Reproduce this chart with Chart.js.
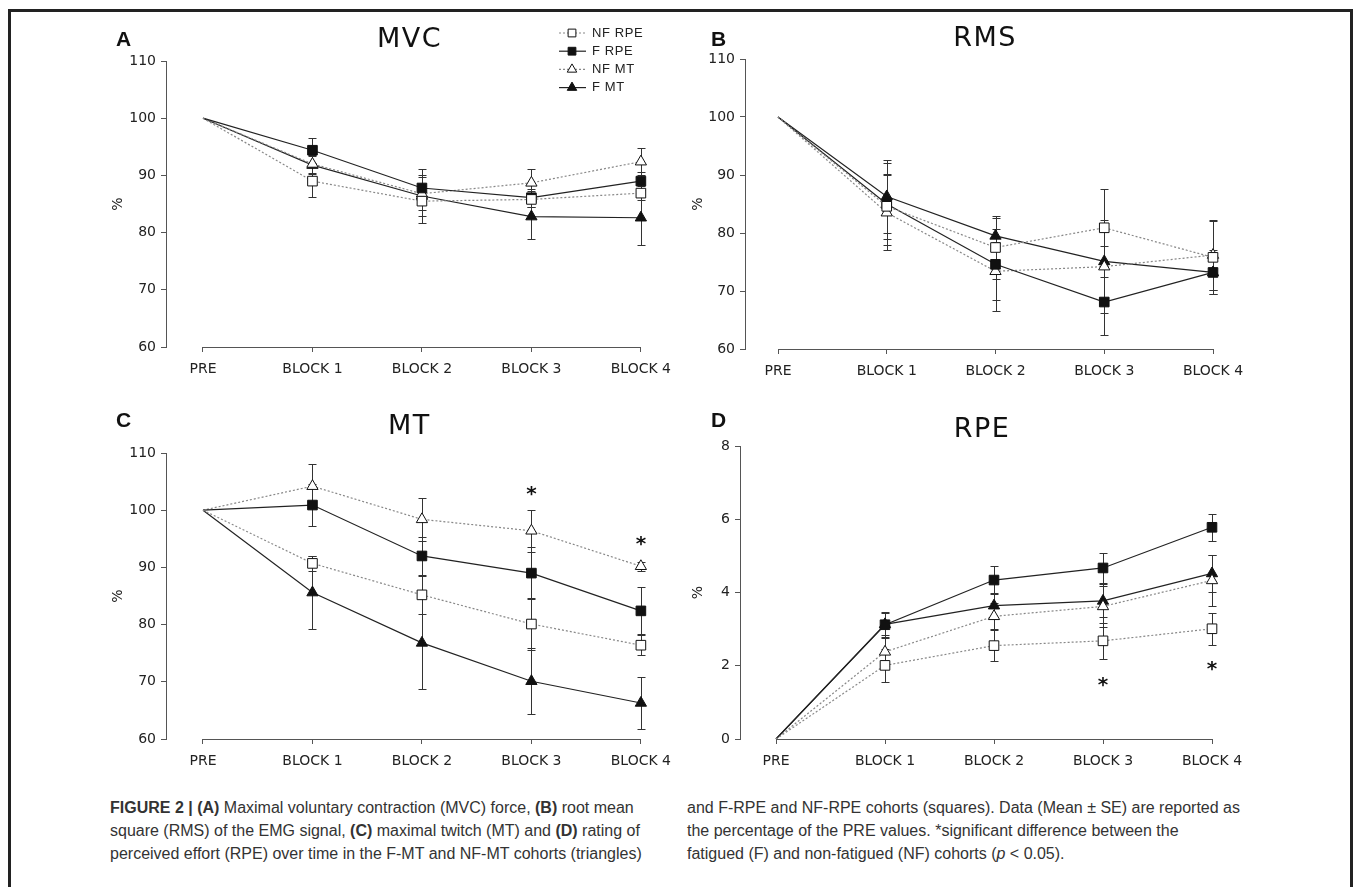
<!DOCTYPE html>
<html>
<head>
<meta charset="utf-8">
<script src="https://cdn.jsdelivr.net/npm/chart.js@4.4.1/dist/chart.umd.min.js"></script>
<style>
  body { margin: 0; background: #fff; width: 1355px; height: 887px; overflow: hidden; position: relative; font-family: "Liberation Sans", Arial, sans-serif; }
  .frame { position: absolute; left: 8px; top: 9px; width: 1339px; height: 900px; border: 3px solid #222; }
  canvas { position: absolute; }
  .tag { position: absolute; font: bold 21px "Liberation Sans", Arial, sans-serif; color: #111; line-height: 1; }
  .cap { position: absolute; top: 796px; font-size: 16px; line-height: 23px; color: #333; white-space: nowrap; }
</style>
</head>
<body>
<div class="frame"></div>
<canvas id="mvc"></canvas>
<canvas id="rms"></canvas>
<canvas id="mt"></canvas>
<canvas id="rpe"></canvas>
<div class="tag" style="left:116px; top:28px">A</div>
<div class="tag" style="left:711px; top:28px">B</div>
<div class="tag" style="left:116px; top:409px">C</div>
<div class="tag" style="left:711px; top:409px">D</div>
<div class="cap" style="left:110px"><b>FIGURE 2 | (A)</b> Maximal voluntary contraction (MVC) force, <b>(B)</b> root mean<br>square (RMS) of the EMG signal, <b>(C)</b> maximal twitch (MT) and <b>(D)</b> rating of<br>perceived effort (RPE) over time in the F-MT and NF-MT cohorts (triangles)</div>
<div class="cap" style="left:687px">and F-RPE and NF-RPE cohorts (squares). Data (Mean ± SE) are reported as<br>the percentage of the PRE values. *significant difference between the<br>fatigued (F) and non-fatigued (NF) cohorts (<i>p</i> &lt; 0.05).</div>
<script>
const categories = ["PRE", "BLOCK 1", "BLOCK 2", "BLOCK 3", "BLOCK 4"];
const seriesNames = ["NF RPE", "F RPE", "NF MT", "F MT"];
const pctTicks = [60, 70, 80, 90, 100, 110];
const rpeTicks = [0, 2, 4, 6, 8];

// MVC (%)
const mvcNfRpe = [100, 89.0, 85.5, 85.8, 86.9];
const mvcFRpe = [100, 94.4, 87.8, 86.1, 89.0];
const mvcNfMt = [100, 92.0, 86.8, 88.7, 92.4];
const mvcFMt = [100, 91.8, 86.4, 82.8, 82.6];
const mvcNfRpeSe = [0, 2.8, 2.6, 1.4, 1.2];
const mvcFRpeSe = [0, 2.2, 2.3, 1.6, 1.6];
const mvcNfMtSe = [0, 1.6, 2.9, 2.4, 2.4];
const mvcFMtSe = [0, 1.6, 4.8, 4.0, 4.8];

// RMS (%)
const rmsNfRpe = [100, 84.6, 77.5, 80.9, 75.8];
const rmsFRpe = [100, 85.0, 74.6, 68.1, 73.2];
const rmsNfMt = [100, 83.5, 73.4, 74.2, 76.2];
const rmsFMt = [100, 86.3, 79.5, 75.1, 73.2];
const rmsNfRpeSe = [0, 5.6, 5.5, 6.7, 6.3];
const rmsFRpeSe = [0, 7.0, 8.0, 5.7, 3.0];
const rmsNfMtSe = [0, 6.5, 5.0, 8.0, 6.0];
const rmsFMtSe = [0, 6.3, 1.2, 2.7, 3.8];

// MT (%)
const mtNfRpe = [100, 90.7, 85.2, 80.1, 76.4];
const mtFRpe = [100, 100.9, 92.0, 89.0, 82.4];
const mtNfMt = [100, 104.2, 98.4, 96.4, 90.2];
const mtFMt = [100, 85.6, 76.8, 70.1, 66.3];
const mtNfRpeSe = [0, 1.3, 3.3, 4.5, 1.8];
const mtFRpeSe = [0, 3.6, 3.4, 4.6, 4.1];
const mtNfMtSe = [0, 3.8, 3.8, 3.7, 0.8];
const mtFMtSe = [0, 6.4, 8.1, 5.8, 4.6];
const mtStars = [null, null, null, 103.3, 94.6];

// RPE
const rpeNfRpe = [0, 2.01, 2.55, 2.68, 3.01];
const rpeFRpe = [0, 3.12, 4.34, 4.67, 5.78];
const rpeNfMt = [0, 2.38, 3.35, 3.62, 4.33];
const rpeFMt = [0, 3.13, 3.64, 3.77, 4.52];
const rpeNfRpeSe = [0, 0.46, 0.43, 0.50, 0.44];
const rpeFRpeSe = [0, 0.36, 0.38, 0.40, 0.37];
const rpeNfMtSe = [0, 0.40, 0.35, 0.55, 0.70];
const rpeFMtSe = [0, 0.30, 0.35, 0.45, 0.50];
const rpeStars = [null, null, null, 1.55, 1.98];

Chart.defaults.font.family = "'DejaVu Sans', Verdana, sans-serif";
Chart.defaults.color = "#222";

const looks = [
  { fill: "#fff", line: "#888", dash: [2, 2], shape: "rect" },
  { fill: "#111", line: "#222", dash: [], shape: "rect" },
  { fill: "#fff", line: "#888", dash: [2, 2], shape: "triangle" },
  { fill: "#111", line: "#222", dash: [], shape: "triangle" }
];

function markerPath(ctx, shape, x, y, r) {
  ctx.beginPath();
  if (shape === "rect") {
    const s = r * Math.SQRT1_2;
    ctx.rect(x - s, y - s, 2 * s, 2 * s);
  } else {
    for (let k = 0; k < 3; k++) {
      const a = k * 2 * Math.PI / 3;
      ctx.lineTo(x + Math.sin(a) * r, y - Math.cos(a) * r);
    }
    ctx.closePath();
  }
}

function makeDatasets(values, errors) {
  return values.map((vals, k) => ({
    label: seriesNames[k],
    data: vals.map((v, i) => ({ x: i, y: v })),
    errors: errors[k],
    borderColor: looks[k].line,
    borderDash: looks[k].dash,
    borderWidth: 1.2,
    pointStyle: looks[k].shape,
    pointRadius: c => (c.dataIndex === 0 ? 0 : (looks[k].shape === "rect" ? 6.8 : 6.5)),
    pointBackgroundColor: looks[k].fill,
    pointBorderColor: "#111",
    pointBorderWidth: 1,
    clip: false,
    tension: 0
  }));
}

const errorBars = {
  id: "errorBars",
  beforeDatasetsDraw(chart) {
    const ctx = chart.ctx, xs = chart.scales.x, ys = chart.scales.y;
    ctx.save();
    ctx.strokeStyle = "#333";
    ctx.lineWidth = 1;
    chart.data.datasets.forEach(ds => {
      ds.data.forEach((p, i) => {
        const e = ds.errors[i];
        if (!e) return;
        const x = Math.round(xs.getPixelForValue(p.x)) + 0.5;
        const top = Math.round(ys.getPixelForValue(p.y + e)) + 0.5;
        const bot = Math.round(ys.getPixelForValue(p.y - e)) + 0.5;
        ctx.beginPath();
        ctx.moveTo(x, top); ctx.lineTo(x, bot);
        ctx.moveTo(x - 4, top); ctx.lineTo(x + 4, top);
        ctx.moveTo(x - 4, bot); ctx.lineTo(x + 4, bot);
        ctx.stroke();
      });
    });
    ctx.restore();
  }
};

// x axis only runs from PRE to BLOCK 4, away from the y axis
const xAxisLine = {
  id: "xAxisLine",
  afterDraw(chart) {
    const ctx = chart.ctx, xs = chart.scales.x;
    const y = Math.round(chart.chartArea.bottom) + 0.5;
    ctx.save();
    ctx.strokeStyle = "#555";
    ctx.lineWidth = 1;
    ctx.beginPath();
    ctx.moveTo(xs.getPixelForValue(0), y);
    ctx.lineTo(xs.getPixelForValue(categories.length - 1), y);
    ctx.stroke();
    ctx.restore();
  }
};

function titlePlugin(text, y) {
  return {
    id: "panelTitle",
    afterDraw(chart) {
      const ctx = chart.ctx, a = chart.chartArea;
      ctx.save();
      ctx.font = "27px 'DejaVu Sans'";
      ctx.letterSpacing = "1.5px";
      ctx.fillStyle = "#111";
      ctx.textAlign = "center";
      ctx.textBaseline = "middle";
      ctx.fillText(text, (a.left + a.right) / 2 + 6, y);
      ctx.restore();
    }
  };
}

function starPlugin(stars) {
  return {
    id: "stars",
    afterDatasetsDraw(chart) {
      const ctx = chart.ctx, xs = chart.scales.x, ys = chart.scales.y;
      ctx.save();
      ctx.font = "bold 20px 'DejaVu Sans'";
      ctx.fillStyle = "#111";
      ctx.textAlign = "center";
      const m = ctx.measureText("*");
      const shift = (m.actualBoundingBoxAscent - m.actualBoundingBoxDescent) / 2;
      stars.forEach((v, i) => {
        if (v === null) return;
        ctx.fillText("*", xs.getPixelForValue(i), ys.getPixelForValue(v) + shift);
      });
      ctx.restore();
    }
  };
}

function legendPlugin(x0, y0) {
  return {
    id: "seriesLegend",
    afterDraw(chart) {
      const ctx = chart.ctx;
      ctx.save();
      chart.data.datasets.forEach((ds, k) => {
        const y = y0 + k * 18.2;
        ctx.strokeStyle = ds.borderColor;
        ctx.lineWidth = 1.2;
        ctx.setLineDash(ds.borderDash);
        ctx.beginPath();
        ctx.moveTo(x0, y); ctx.lineTo(x0 + 27, y);
        ctx.stroke();
        ctx.setLineDash([]);
        ctx.fillStyle = ds.pointBackgroundColor;
        ctx.strokeStyle = "#111";
        ctx.lineWidth = 1;
        markerPath(ctx, ds.pointStyle, x0 + 13, y, 5.5);
        ctx.fill();
        ctx.stroke();
        ctx.fillStyle = "#222";
        ctx.font = "13px 'Liberation Sans'";
        ctx.letterSpacing = "0.6px";
        ctx.textBaseline = "middle";
        ctx.fillText(ds.label, x0 + 33, y);
      });
      ctx.restore();
    }
  };
}

function panel(id, box, area, yTicks, values, errors, extras) {
  const cv = document.getElementById(id);
  cv.style.left = box[0] + "px";
  cv.style.top = box[1] + "px";
  cv.width = box[2];
  cv.height = box[3];
  const padLeft = 6, xAxisH = 36;
  const yAxisW = area.l - box[0] - padLeft;
  const w = area.r - area.l, gap = area.pre - area.l;
  const last = categories.length - 1;
  const xMin = -last * gap / (w - gap);
  return new Chart(cv, {
    type: "line",
    data: { datasets: makeDatasets(values, errors) },
    options: {
      responsive: false,
      animation: false,
      devicePixelRatio: 1,
      events: [],
      layout: {
        padding: {
          left: padLeft,
          right: box[0] + box[2] - area.r,
          top: area.t - box[1],
          bottom: box[1] + box[3] - area.b - xAxisH
        }
      },
      plugins: { legend: { display: false }, tooltip: { enabled: false } },
      scales: {
        x: {
          type: "linear",
          min: xMin,
          max: last,
          afterBuildTicks: s => { s.ticks = categories.map((c, i) => ({ value: i })); },
          afterFit: s => { s.height = xAxisH; },
          border: { display: false },
          grid: { drawOnChartArea: false, color: "#555", tickLength: 5 },
          ticks: {
            callback: v => categories[v],
            color: "#222",
            font: { size: 14 },
            padding: 9,
            maxRotation: 0,
            autoSkip: false
          }
        },
        y: {
          min: yTicks[0],
          max: yTicks[yTicks.length - 1],
          afterBuildTicks: s => { s.ticks = yTicks.map(v => ({ value: v })); },
          afterFit: s => { s.width = yAxisW; },
          border: { color: "#555" },
          grid: { drawOnChartArea: false, color: "#555", tickLength: 5 },
          ticks: { color: "#222", font: { size: 14 }, padding: 5 },
          title: { display: true, text: "%", color: "#222", font: { size: 14 }, padding: 4 }
        }
      }
    },
    plugins: [errorBars, xAxisLine].concat(extras)
  });
}

panel("mvc", [100, 14, 580, 376], { l: 166, t: 61, r: 641, b: 347, pre: 203 }, pctTicks,
  [mvcNfRpe, mvcFRpe, mvcNfMt, mvcFMt], [mvcNfRpeSe, mvcFRpeSe, mvcNfMtSe, mvcFMtSe],
  [titlePlugin("MVC", 26), legendPlugin(459, 19)]);

panel("rms", [680, 14, 600, 376], { l: 745, t: 59, r: 1213, b: 349, pre: 778 }, pctTicks,
  [rmsNfRpe, rmsFRpe, rmsNfMt, rmsFMt], [rmsNfRpeSe, rmsFRpeSe, rmsNfMtSe, rmsFMtSe],
  [titlePlugin("RMS", 25)]);

panel("mt", [100, 395, 580, 385], { l: 166, t: 453, r: 641, b: 739, pre: 203 }, pctTicks,
  [mtNfRpe, mtFRpe, mtNfMt, mtFMt], [mtNfRpeSe, mtFRpeSe, mtNfMtSe, mtFMtSe],
  [titlePlugin("MT", 32), starPlugin(mtStars)]);

panel("rpe", [680, 395, 600, 385], { l: 740, t: 446, r: 1212, b: 739, pre: 776 }, rpeTicks,
  [rpeNfRpe, rpeFRpe, rpeNfMt, rpeFMt], [rpeNfRpeSe, rpeFRpeSe, rpeNfMtSe, rpeFMtSe],
  [titlePlugin("RPE", 35), starPlugin(rpeStars)]);
</script>
</body>
</html>
